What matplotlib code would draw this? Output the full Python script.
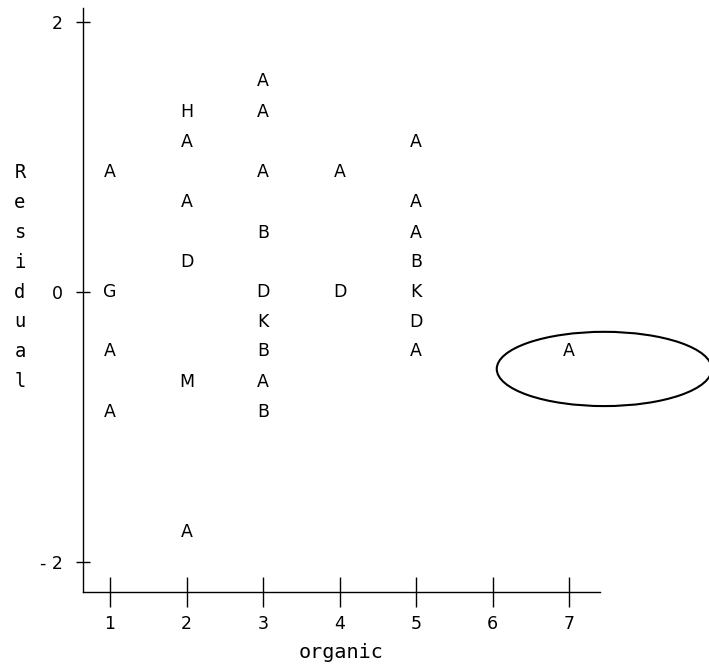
"""Residual vs organic, letter-coded plot with a highlighted outlier."""

import matplotlib
matplotlib.use("Agg")
import matplotlib.pyplot as plt
import matplotlib.transforms as mtransforms
from matplotlib.patches import Ellipse

plt.rcParams["axes.unicode_minus"] = False
plt.rcParams["font.family"] = ["DejaVu Sans"]

# ---- data ------------------------------------------------------------
organic = [1, 1, 1, 1,
           2, 2, 2, 2, 2, 2,
           3, 3, 3, 3, 3, 3, 3, 3, 3,
           4, 4,
           5, 5, 5, 5, 5, 5, 5,
           7]
residual = [0.89, 0.00, -0.44, -0.89,
            1.33, 1.11, 0.67, 0.22, -0.67, -1.78,
            1.56, 1.33, 0.89, 0.44, 0.00, -0.22, -0.44, -0.67, -0.89,
            0.89, 0.00,
            1.11, 0.67, 0.44, 0.22, 0.00, -0.22, -0.44,
            -0.44]
symbols = ["A", "G", "A", "A",
           "H", "A", "A", "D", "M", "A",
           "A", "A", "A", "B", "D", "K", "B", "A", "B",
           "A", "D",
           "A", "A", "A", "B", "K", "D", "A",
           "A"]

x_ticks = [1, 2, 3, 4, 5, 6, 7]
y_ticks = [-2, 0, 2]
y_tick_labels = ["- 2", "0", "2"]
x_label = "organic"
y_label = "Residual"

# outlier ring (data units)
ring_center = (7.46, -0.57)
ring_width, ring_height = 2.81, 0.55

# ---- figure -----------------------------------------------------------
fig = plt.figure(figsize=(7.09, 6.68), dpi=100)
ax = fig.add_axes([0.1171, 0.1138, 0.7292, 0.8743])

ax.set_xlim(0.647, 7.405)
ax.set_ylim(-2.222, 2.104)

for x, y, s in zip(organic, residual, symbols):
    ax.text(x, y, s, ha="center", va="center", fontsize=12.5,
            color="black")

ax.add_patch(Ellipse(ring_center, ring_width, ring_height, fill=False,
                     edgecolor="black", linewidth=1.5, clip_on=False))

ax.spines["top"].set_visible(False)
ax.spines["right"].set_visible(False)
for side in ("left", "bottom"):
    ax.spines[side].set_linewidth(1.0)

ax.set_xticks(x_ticks)
ax.set_yticks(y_ticks, y_tick_labels)
ax.tick_params(axis="x", direction="inout", length=21.6, width=1.0,
               pad=5.8, labelsize=12.5)
ax.tick_params(axis="y", direction="inout", length=9.4, width=1.0,
               pad=10, labelsize=12.5)

ax.set_xlabel(x_label, family="DejaVu Sans Mono", fontsize=14.5, labelpad=7)

# vertical, one letter per row, on the same row grid as the plotted codes
row_step = 0.2222
lab_trans = mtransforms.blended_transform_factory(ax.transAxes, ax.transData)
for i, ch in enumerate(y_label):
    ax.text(-0.122, row_step * (4 - i), ch, transform=lab_trans,
            ha="center", va="center", family="DejaVu Sans Mono",
            fontsize=13.5, clip_on=False)

fig.savefig("out.png", dpi=100)
